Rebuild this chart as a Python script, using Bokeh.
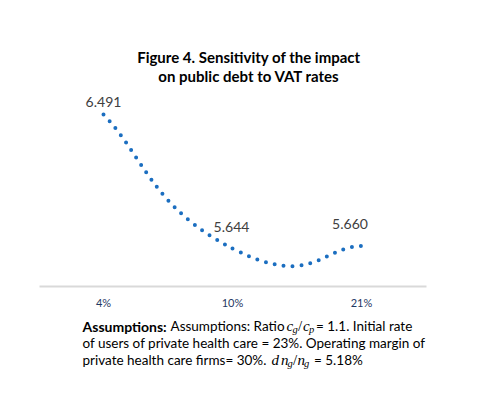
import numpy as np
from bokeh.plotting import figure
from bokeh.models import ColumnDataSource, Range1d, FixedTicker, Label
from bokeh.embed import file_html
from bokeh.resources import INLINE
from bokeh.core.properties import value

# ---------------- data ----------------
categories = ["4%", "10%", "21%"]
debt_impact = [6.491, 5.644, 5.660]
value_labels = ["6.491", "5.644", "5.660"]

title_lines = ["Figure 4. Sensitivity of the impact", "on public debt to VAT rates"]

# ---------------- style / geometry ----------------
FONT = "Lato"
MATH = "Liberation Serif"
BLUE = "#1B6EC0"
W, H = 488, 378
PX_FIRST = 103.0      # pixel x of first category centre
PITCH = 129.0         # pixels per category
PY_REF = 114.0        # pixel y of the first value
PX_PER_UNIT = 158.2   # pixels per unit of y
AXIS_PY = 286.0       # pixel y of the category axis line
label_dx = [0, -1, -11.5]
label_dy = [-13, -21, -21.5]

x_lo = -PX_FIRST / PITCH
x_hi = (W - PX_FIRST) / PITCH
y_hi = debt_impact[0] + PY_REF / PX_PER_UNIT
y_lo = debt_impact[0] - (H - PY_REF) / PX_PER_UNIT
axis_val = debt_impact[0] - (AXIS_PY - PY_REF) / PX_PER_UNIT

p = figure(width=W, height=H, output_backend="svg", toolbar_location=None,
           x_range=Range1d(x_lo, x_hi), y_range=Range1d(y_lo, y_hi),
           y_axis_location=None,
           min_border_left=0, min_border_right=0,
           min_border_top=0, min_border_bottom=0)
p.outline_line_color = None
p.xgrid.visible = False
p.ygrid.visible = False
p.background_fill_color = "white"
p.border_fill_color = "white"

# ---------------- smoothed dotted line (Bezier through the points) ----------------
xs = np.arange(len(categories), dtype=float)
ys = np.array(debt_impact, dtype=float)
n = len(xs)
k = 0.31
x0, y0, x1, y1, cx0, cy0, cx1, cy1 = ([] for _ in range(8))
for i in range(n - 1):
    pm = max(i - 1, 0)
    pp = min(i + 2, n - 1)
    x0.append(xs[i]); y0.append(ys[i])
    x1.append(xs[i + 1]); y1.append(ys[i + 1])
    cx0.append(xs[i] + k * (xs[i + 1] - xs[pm]))
    cy0.append(ys[i] + k * (ys[i + 1] - ys[pm]))
    cx1.append(xs[i + 1] - k * (xs[pp] - xs[i]))
    cy1.append(ys[i + 1] - k * (ys[pp] - ys[i]))
bez = ColumnDataSource(dict(x0=x0, y0=y0, x1=x1, y1=y1, cx0=cx0, cy0=cy0, cx1=cx1, cy1=cy1))
p.bezier(x0="x0", y0="y0", x1="x1", y1="y1", cx0="cx0", cy0="cy0", cx1="cx1", cy1="cy1",
         source=bez, line_color=BLUE, line_width=4, line_dash="0 9", line_cap="round")

# ---------------- data labels ----------------
lab_src = ColumnDataSource(dict(x=xs, y=ys, text=value_labels, dx=label_dx, dy=label_dy))
p.text(x="x", y="y", text="text", x_offset="dx", y_offset="dy", source=lab_src,
       text_font=value(FONT), text_font_size="14px", text_color="#404040",
       text_align="center", text_baseline="middle")

# ---------------- axis ----------------
ax = p.xaxis[0]
ax.fixed_location = axis_val
ax.bounds = (-0.5, len(categories) - 0.5)
ax.ticker = FixedTicker(ticks=list(range(len(categories))))
ax.major_label_overrides = {i: c for i, c in enumerate(categories)}
ax.axis_line_color = "#D9D9D9"
ax.axis_line_width = 2
ax.major_tick_line_color = None
ax.minor_tick_line_color = None
ax.major_tick_out = 0
ax.major_tick_in = 0
ax.major_label_standoff = 9
ax.major_label_text_font = FONT
ax.major_label_text_font_size = "11px"
ax.major_label_text_color = "#1F3864"


# ---------------- free text (page coordinates -> frame screen units) ----------------
def put(text, px, py, size="13.5px", style="normal", align="left", baseline="alphabetic",
        font=FONT, color="#000000"):
    p.add_layout(Label(x=px, y=H - py, x_units="screen", y_units="screen", text=text,
                       text_font=font, text_font_size=size, text_font_style=style,
                       text_align=align, text_baseline=baseline, text_color=color))


def put_math(pieces, px, py):
    # pieces: (text, kind, advance) with kind "m" main italic, "s" subscript, "r" upright
    for txt, kind, adv in pieces:
        if kind == "s":
            put(txt, px, py + 3, size="10.5px", style="italic", font=MATH)
        elif kind == "r":
            put(txt, px, py, size="15px", font=MATH)
        else:
            put(txt, px, py, size="15px", style="italic", font=MATH)
        px += adv
    return px


put(title_lines[0], 248.5, 56, size="15px", style="bold", align="center", baseline="middle")
put(title_lines[1], 248.5, 75.7, size="15px", style="bold", align="center", baseline="middle")

# assumptions paragraph
B1, B2, B3 = 325.5, 342.8, 359.8
put("Assumptions:", 82, B1, size="14px", style="bold")
put("Assumptions: Ratio", 170, B1)
end1 = put_math([("c", "m", 6), ("g", "s", 5.5), ("/", "r", 5), ("c", "m", 6), ("p", "s", 6)], 286, B1)
put("= 1.1. Initial rate", end1 + 1, B1)

put("of users of private health care = 23%. Operating margin of", 82, B2)

put("private health care firms= 30%.", 82, B3)
end3 = put_math([("d", "m", 9.5), ("n", "m", 6.5), ("g", "s", 5.5), ("/", "r", 4.5),
                 ("n", "m", 6.5), ("g", "s", 6)], 271, B3)
put("= 5.18%", end3 + 4, B3)

open("out.html", "w").write(file_html(p, INLINE))
